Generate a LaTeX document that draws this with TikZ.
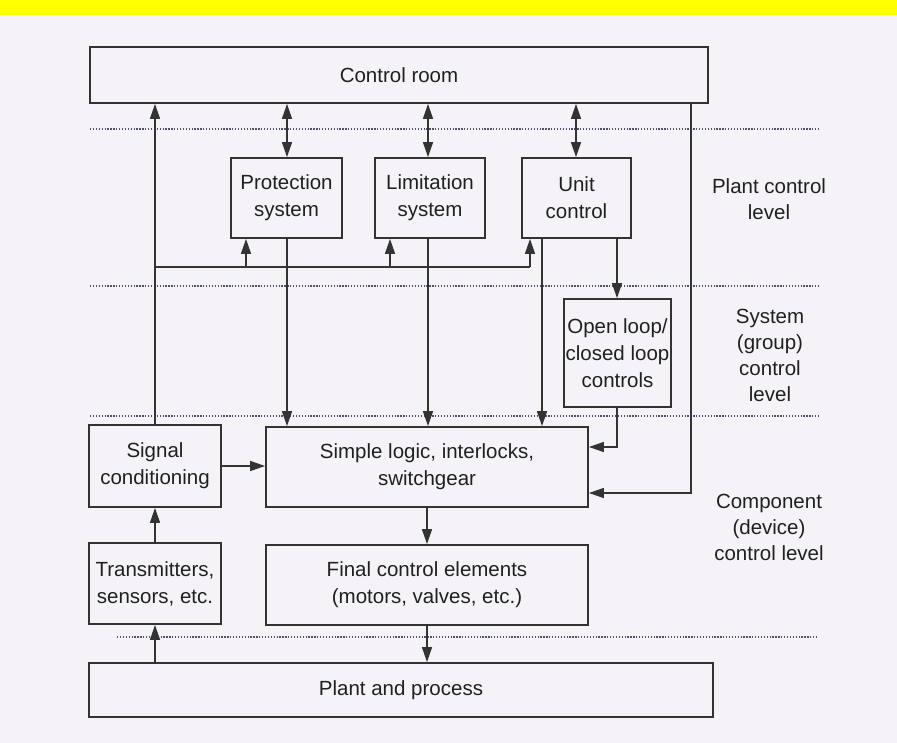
\documentclass[tikz,border=0pt]{standalone}
\usepackage{fontspec}
\setmainfont{Liberation Sans}
\usetikzlibrary{arrows.meta,calc}
\definecolor{bg}{HTML}{F5F3F8}
\definecolor{ink}{HTML}{333333}
\definecolor{txt}{HTML}{202020}
\definecolor{dotc}{HTML}{50506A}
\definecolor{band}{HTML}{FFFF00}
\begin{document}
\begin{tikzpicture}[x=1pt,y=-1pt,
  box/.style={draw=ink,line width=1.8pt,inner sep=0pt,align=center,text=txt,font=\fontsize{20.5}{27}\selectfont},
  conn/.style={draw=ink,line width=1.4pt},
  arr/.style={conn,-{Triangle[length=15pt,width=10pt]}},
  darr/.style={conn,{Triangle[length=15pt,width=10pt]}-{Triangle[length=15pt,width=10pt]}},
  busline/.style={draw=ink,line width=2.6pt},
  lvl/.style={draw=dotc,line width=1.6pt,dash pattern=on 1.3pt off 1.6pt},
  lab/.style={align=center,text=txt,inner sep=0pt,font=\fontsize{20.5}{26}\selectfont}]
\fill[bg] (0,0) rectangle (897,743);
\fill[band] (0,0) rectangle (897,15);
\useasboundingbox (0,0) rectangle (897,743);

% level separators
\coordinate (d1a) at (90,129);  \coordinate (d1b) at (818,129);
\coordinate (d2a) at (90,286);  \coordinate (d2b) at (818,286);
\coordinate (d3a) at (90,416);  \coordinate (d3b) at (818,416);
\coordinate (d4a) at (117,637); \coordinate (d4b) at (818,637);
\draw[lvl] (d1a) -- (d1b);
\draw[lvl] (d2a) -- (d2b);
\draw[lvl] (d3a) -- (d3b);
\draw[lvl] (d4a) -- (d4b);

% boxes
\node[box,minimum width=618pt,minimum height=56pt] (cr) at (399,75) {Control room};
\node[box,minimum width=111pt,minimum height=80pt] (prot) at (286.5,198) {Protection\\system};
\node[box,minimum width=110pt,minimum height=80pt] (lim) at (430,198) {Limitation\\system};
\node[box,minimum width=109pt,minimum height=80pt] (unit) at (576.5,198) {Unit\\control};
\node[box,minimum width=107pt,minimum height=108pt] (ol) at (617.5,353) {Open loop/\\closed loop\\controls};
\node[box,minimum width=132pt,minimum height=82pt] (sig) at (155,466) {Signal\\conditioning};
\node[box,minimum width=322pt,minimum height=80pt] (logic) at (427,467) {Simple logic, interlocks,\\switchgear};
\node[box,minimum width=132pt,minimum height=81pt] (trans) at (155,583.5) {Transmitters,\\sensors, etc.};
\node[box,minimum width=322pt,minimum height=80pt] (final) at (427,585) {Final control elements\\(motors, valves, etc.)};
\node[box,minimum width=624pt,minimum height=54pt] (plant) at (401,690) {Plant and process};

% level labels
\node[lab] (l1) at (769,199) {Plant control\\level};
\node[lab] (l2) at (770,355) {System\\(group)\\control\\level};
\node[lab] (l3) at (769,527) {Component\\(device)\\control level};

% helper coordinates
\coordinate (xP) at (287,0);
\coordinate (xL) at (428,0);
\coordinate (xU) at (576,0);
\coordinate (xPb) at (246,0);
\coordinate (xLb) at (390,0);
\coordinate (xUb) at (530,0);
\coordinate (xU2) at (542,0);
\coordinate (xO) at (617,0);
\coordinate (xR) at (691,0);
\coordinate (yB) at (0,267);
\coordinate (yA) at (0,447);
\coordinate (yR) at (0,493);

% control room links
\draw[darr] (cr.south -| xP) -- (prot.north -| xP);
\draw[darr] (cr.south -| xL) -- (lim.north -| xL);
\draw[darr] (cr.south -| xU) -- (unit.north -| xU);
\draw[arr] (sig.north) -- (sig.north |- cr.south);

% bus
\draw[busline] (sig.north |- yB) -- (xUb |- yB);
\draw[arr] (xPb |- yB) -- (prot.south -| xPb);
\draw[arr] (xLb |- yB) -- (lim.south -| xLb);
\draw[arr] (xUb |- yB) -- (unit.south -| xUb);

% down links
\draw[arr] (prot.south -| xP) -- (logic.north -| xP);
\draw[arr] (lim.south -| xL) -- (logic.north -| xL);
\draw[arr] (unit.south -| xU2) -- (logic.north -| xU2);
\draw[arr] (unit.south -| xO) -- (ol.north -| xO);
\draw[arr] (ol.south -| xO) |- (logic.east |- yA);
\draw[arr] (cr.south -| xR) |- (logic.east |- yR);

% lower links
\draw[arr] (sig.east) -- (logic.west |- sig.east);
\draw[arr] (logic.south) -- (final.north);
\draw[arr] (trans.north) -- (sig.south);
\draw[arr] (plant.north -| trans.south) -- (trans.south);
\draw[arr] (final.south) -- (plant.north -| final.south);
\end{tikzpicture}
\end{document}
